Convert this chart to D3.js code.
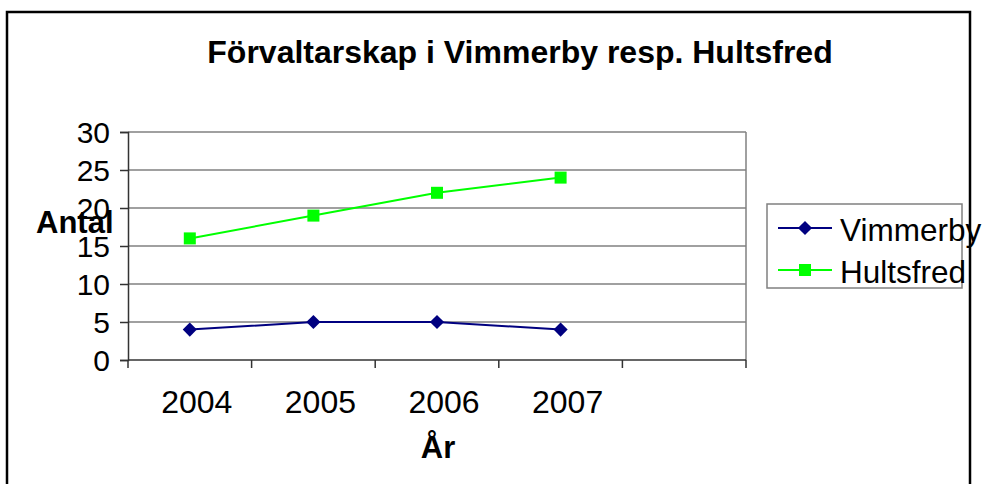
<!DOCTYPE html>
<html>
<head>
<meta charset="utf-8">
<script src="https://cdn.jsdelivr.net/npm/d3@7"></script>
<style>
  body { margin: 0; background: #fff; }
  text { font-family: "Liberation Sans", Arial, sans-serif; }
</style>
</head>
<body>
<svg id="chart" width="982" height="484"></svg>
<script>
// data
const years = ['2004', '2005', '2006', '2007', ''];
const vimmerby = [4, 5, 5, 4];
const hultsfred = [16, 19, 22, 24];
const yTicks = [0, 5, 10, 15, 20, 25, 30];
const seriesNames = ['Vimmerby', 'Hultsfred'];
const seriesColors = ['#000080', '#00ff00'];

const svg = d3.select('#chart');
const plot = { left: 128, top: 132, right: 746, bottom: 360 };

// outer chart frame
svg.append('rect')
    .attr('x', 7).attr('y', 12)
    .attr('width', 963).attr('height', 490)
    .attr('fill', 'none').attr('stroke', '#000').attr('stroke-width', 2.5);

svg.append('text')
    .attr('x', 520).attr('y', 63)
    .attr('text-anchor', 'middle')
    .attr('font-size', 32).attr('font-weight', 'bold')
    .text('Förvaltarskap i Vimmerby resp. Hultsfred');

const x = d3.scaleBand().domain(years).range([plot.left, plot.right]);
const y = d3.scaleLinear().domain([0, 30]).range([plot.bottom, plot.top]);

// gridlines
svg.append('g').selectAll('line')
    .data(yTicks.filter(d => d > 0))
    .join('line')
    .attr('x1', plot.left).attr('x2', plot.right)
    .attr('y1', d => y(d)).attr('y2', d => y(d))
    .attr('stroke', '#808080').attr('stroke-width', 1.5);

// right border of plot area
svg.append('line')
    .attr('x1', plot.right).attr('x2', plot.right)
    .attr('y1', plot.top).attr('y2', plot.bottom)
    .attr('stroke', '#808080').attr('stroke-width', 1.5);

// y axis
const yAxis = svg.append('g')
    .attr('transform', `translate(${plot.left},0)`)
    .call(d3.axisLeft(y).tickValues(yTicks).tickSize(8).tickPadding(10));
yAxis.selectAll('text').attr('font-size', 30).attr('fill', '#000')
    .attr('font-family', '"Liberation Sans", Arial, sans-serif')
    .attr('dy', '0.36em');
yAxis.select('.domain').attr('stroke', '#333').attr('stroke-width', 1.5);
yAxis.selectAll('.tick line').attr('stroke', '#333').attr('stroke-width', 1.5);

// x axis with ticks at category boundaries
const xAxis = svg.append('g')
    .attr('transform', `translate(0,${plot.bottom})`);
xAxis.append('line')
    .attr('x1', plot.left).attr('x2', plot.right)
    .attr('stroke', '#333').attr('stroke-width', 1.5);
xAxis.selectAll('line.tick')
    .data(d3.range(years.length + 1))
    .join('line').attr('class', 'tick')
    .attr('x1', i => plot.left + i * x.step()).attr('x2', i => plot.left + i * x.step())
    .attr('y1', 0).attr('y2', 8)
    .attr('stroke', '#333').attr('stroke-width', 1.5);
xAxis.selectAll('text')
    .data(years)
    .join('text')
    .attr('x', d => x(d) + x.bandwidth() / 2 + 7)
    .attr('y', 53)
    .attr('text-anchor', 'middle')
    .attr('font-size', 32)
    .text(d => d);

// axis titles
svg.append('text')
    .attr('x', 36).attr('y', 233)
    .attr('font-size', 31).attr('font-weight', 'bold')
    .text('Antal');
svg.append('text')
    .attr('x', 438).attr('y', 458)
    .attr('text-anchor', 'middle')
    .attr('font-size', 31).attr('font-weight', 'bold')
    .text('År');

const cx = (d, i) => x(years[i]) + x.bandwidth() / 2;
const line = d3.line().x(cx).y(d => y(d));

// Vimmerby
svg.append('path')
    .datum(vimmerby)
    .attr('d', line)
    .attr('fill', 'none').attr('stroke', seriesColors[0]).attr('stroke-width', 2);
svg.append('g').selectAll('path')
    .data(vimmerby)
    .join('path')
    .attr('transform', (d, i) => `translate(${cx(d, i)},${y(d)}) rotate(45)`)
    .attr('d', d3.symbol().type(d3.symbolSquare).size(100))
    .attr('fill', seriesColors[0]);

// Hultsfred
svg.append('path')
    .datum(hultsfred)
    .attr('d', line)
    .attr('fill', 'none').attr('stroke', seriesColors[1]).attr('stroke-width', 2);
svg.append('g').selectAll('rect')
    .data(hultsfred)
    .join('rect')
    .attr('x', (d, i) => cx(d, i) - 6).attr('y', d => y(d) - 6)
    .attr('width', 12).attr('height', 12)
    .attr('fill', seriesColors[1]);

// legend
const legend = svg.append('g');
legend.append('rect')
    .attr('x', 767).attr('y', 204)
    .attr('width', 195).attr('height', 84)
    .attr('fill', '#fff').attr('stroke', '#808080').attr('stroke-width', 1.5);
const items = legend.selectAll('g.item')
    .data(seriesNames)
    .join('g').attr('class', 'item')
    .attr('transform', (d, i) => `translate(0,${228 + i * 42})`);
items.append('line')
    .attr('x1', 778).attr('x2', 832)
    .attr('stroke', (d, i) => seriesColors[i]).attr('stroke-width', 2);
items.append('path')
    .attr('transform', (d, i) => i === 0 ? 'translate(805,0) rotate(45)' : 'translate(805,0)')
    .attr('d', (d, i) => d3.symbol().type(d3.symbolSquare).size(i === 0 ? 100 : 144)())
    .attr('fill', (d, i) => seriesColors[i]);
items.append('text')
    .attr('x', 840).attr('y', 13)
    .attr('font-size', 31.5)
    .text(d => d);
</script>
</body>
</html>
